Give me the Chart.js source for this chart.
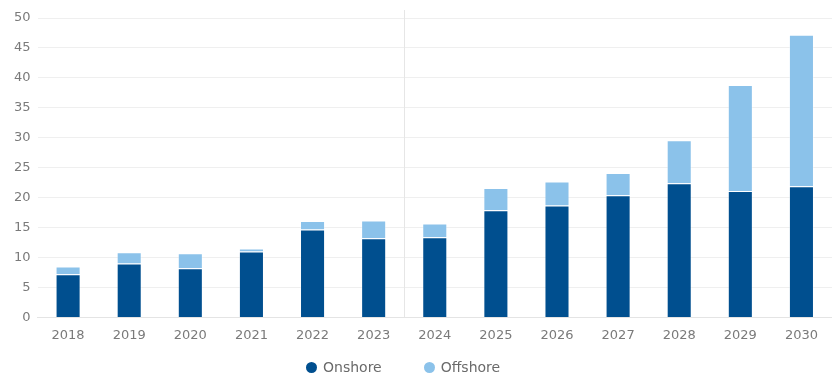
<!DOCTYPE html>
<html>
<head>
<meta charset="utf-8">
<script src="https://cdn.jsdelivr.net/npm/chart.js@4"></script>
<style>
  html, body { margin: 0; padding: 0; background: #fff; }
  #wrap { position: relative; width: 832px; height: 376px; overflow: hidden; }
  #chartBox { width: 832px; height: 362px; }
  #legend {
    position: absolute; left: 306px; top: 358px; height: 18px;
    display: flex; align-items: center;
    font: 14px "DejaVu Sans", sans-serif; color: #6a6a6a;
  }
  #legend .item { display: flex; align-items: center; }
  #legend .item + .item { margin-left: 42px; }
  #legend .dot { width: 11px; height: 11px; border-radius: 50%; margin-right: 6px; }
</style>
</head>
<body>
<div id="wrap">
  <div id="chartBox"><canvas id="windChart"></canvas></div>
  <div id="legend"></div>
</div>
<script>
const years = ["2018", "2019", "2020", "2021", "2022", "2023", "2024", "2025", "2026", "2027", "2028", "2029", "2030"];
const onshore = [7.2, 9.0, 8.2, 11.0, 14.7, 13.2, 13.4, 17.9, 18.7, 20.4, 22.4, 21.1, 21.9];
const offshore = [1.3, 1.9, 2.5, 0.5, 1.4, 3.0, 2.3, 3.7, 4.0, 3.7, 7.2, 17.7, 25.3];
const yTicks = [0, 5, 10, 15, 20, 25, 30, 35, 40, 45, 50];

// thin line between historic (to 2023) and forecast (from 2024)
const dividerLine = {
  id: "dividerLine",
  beforeDatasetsDraw(chart) {
    const x = chart.scales.x.getPixelForValue(5.5);
    const { top, bottom } = chart.chartArea;
    const c = chart.ctx;
    c.save();
    c.strokeStyle = "#e6e6e6";
    c.lineWidth = 1;
    c.beginPath();
    c.moveTo(Math.round(x) + 0.5, top - 8);
    c.lineTo(Math.round(x) + 0.5, bottom);
    c.stroke();
    c.restore();
  },
};

const ctx = document.getElementById("windChart").getContext("2d");
const chart = new Chart(ctx, {
  type: "bar",
  data: {
    labels: years,
    datasets: [
      {
        label: "Onshore",
        data: onshore,
        backgroundColor: "#004f8f",
        borderColor: "rgba(255,255,255,0.35)",
        borderWidth: 1,
      },
      {
        label: "Offshore",
        data: offshore,
        backgroundColor: "#8bc2ea",
        borderColor: "rgba(255,255,255,0.35)",
        borderWidth: 1,
      },
    ],
  },
  options: {
    responsive: true,
    maintainAspectRatio: false,
    animation: false,
    layout: { padding: { top: 18, right: -5, left: 7, bottom: 9 } },
    datasets: {
      bar: { categoryPercentage: 1, barPercentage: 0.41 },
    },
    scales: {
      x: {
        stacked: true,
        grid: { display: false, drawTicks: false },
        border: { color: "#e4e4e4" },
        ticks: {
          color: "#7a7a7a",
          font: { family: "DejaVu Sans", size: 13 },
          padding: 10,
        },
      },
      y: {
        stacked: true,
        min: 0,
        max: 50,
        afterBuildTicks: (axis) => {
          axis.ticks = yTicks.map((v) => ({ value: v }));
        },
        grid: { color: "#efefef", drawTicks: false },
        border: { display: false },
        ticks: {
          color: "#7a7a7a",
          font: { family: "DejaVu Sans", size: 13 },
          padding: 7,
        },
      },
    },
    plugins: {
      legend: { display: false },
      tooltip: { enabled: false },
    },
  },
  plugins: [dividerLine],
});

// html legend built from the datasets
const legendEl = document.getElementById("legend");
chart.data.datasets.forEach((ds) => {
  const item = document.createElement("span");
  item.className = "item";
  const dot = document.createElement("span");
  dot.className = "dot";
  dot.style.background = ds.backgroundColor;
  const label = document.createElement("span");
  label.textContent = ds.label;
  item.appendChild(dot);
  item.appendChild(label);
  legendEl.appendChild(item);
});
</script>
</body>
</html>
